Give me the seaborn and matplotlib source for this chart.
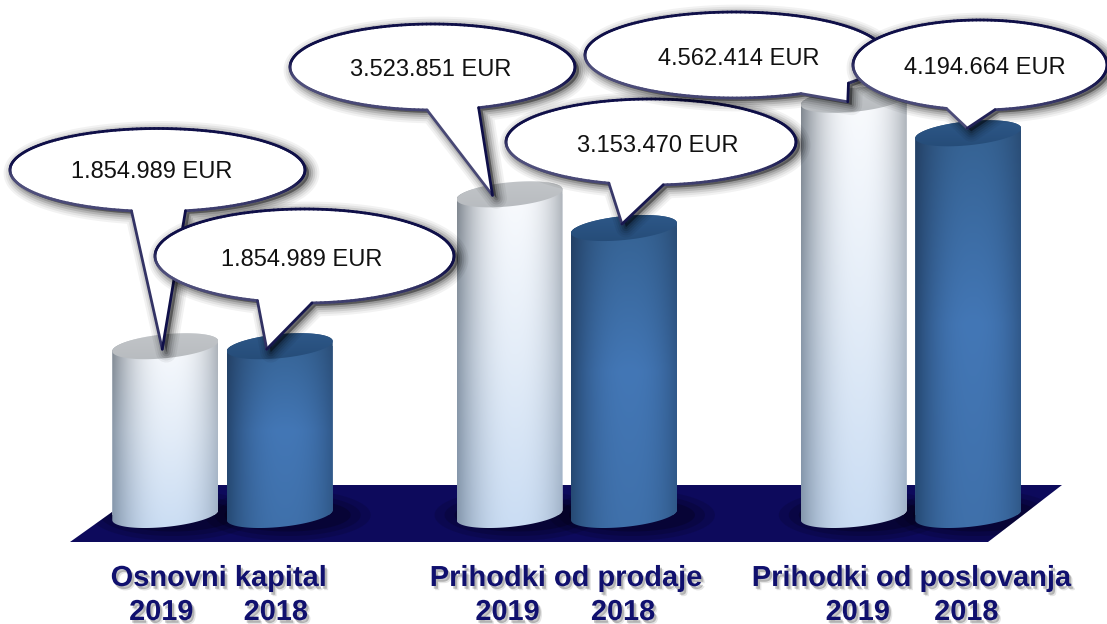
import numpy as np
import pandas as pd
import seaborn as sns
import matplotlib
matplotlib.use("Agg")
import matplotlib.pyplot as plt
import matplotlib.patheffects as pe
from matplotlib.path import Path
from matplotlib.patches import PathPatch, Polygon
from matplotlib.collections import LineCollection
from matplotlib.colors import to_rgb
from matplotlib.transforms import Affine2D, IdentityTransform, blended_transform_factory

categories = ["Osnovni kapital", "Prihodki od prodaje", "Prihodki od poslovanja"]
years = ["2019", "2018"]
values_2019 = [1854989, 3523851, 4562414]
values_2018 = [1854989, 3153470, 4194664]

W, H = 1107, 624
sns.set_theme(style="white")
plt.rcParams["font.family"] = ["Liberation Sans", "DejaVu Sans"]

df = pd.DataFrame({
    "category": categories * 2,
    "year": [years[0]] * 3 + [years[1]] * 3,
    "value": values_2019 + values_2018,
})

fig = plt.figure(figsize=(W / 100, H / 100), dpi=100, facecolor="white")
AX_BOTTOM_PX = 548
ax = fig.add_axes([0, (H - AX_BOTTOM_PX) / H, 1, AX_BOTTOM_PX / H])
sns.barplot(data=df, x="category", y="value", hue="year", hue_order=years,
            palette={"2019": "#dfe8f3", "2018": "#3f70a8"},
            width=0.665, gap=0.074, legend=False, ax=ax, zorder=3, linewidth=0)

PX_PER_UNIT = 344.25
PX_PER_EUR = 91e-6
BASE_PX = 515
xlim = (-222.5 / PX_PER_UNIT, (W - 222.5) / PX_PER_UNIT)
ylim = ((BASE_PX - AX_BOTTOM_PX) / PX_PER_EUR, BASE_PX / PX_PER_EUR)
ax.set_xlim(xlim)
ax.set_ylim(ylim)
ax.axis("off")

PX = Affine2D().scale(1, -1).translate(0, H)  # reference-pixel layout coordinates
ID = IdentityTransform()


def lerp(c0, c1, t):
    c0, c1 = np.array(to_rgb(c0)), np.array(to_rgb(c1))
    t = np.asarray(t)[..., None]
    return c0 * (1 - t) + c1 * t


STYLE = {
    "2019": dict(mid=["#fbfcfe", "#e4edf8", "#c9dcf3"], edge=["#80868d", "#8a98a8", "#8497ad"],
                 cap=["#c4c7ca", "#b6babe"]),
    "2018": dict(mid=["#34608f", "#4377b6", "#3f70aa"], edge=["#233f63", "#25466f", "#264a74"],
                 cap=["#2f5a8c", "#244a75"]),
}


def cylinder_gradient(style):
    n_u, n_v = 120, 160
    u = np.linspace(0, 1, n_u)
    v = np.linspace(0, 1, n_v)
    def vert(cols):
        out = np.zeros((n_v, 3))
        for i, vv in enumerate(v):
            if vv < .5:
                out[i] = lerp(cols[0], cols[1], vv * 2)
            else:
                out[i] = lerp(cols[1], cols[2], (vv - .5) * 2)
        return out
    mid, edge = vert(style["mid"]), vert(style["edge"])
    f = np.abs(u - .55) / .55
    f = f ** 2.4
    return mid[:, None, :] * (1 - f[None, :, None]) + edge[:, None, :] * f[None, :, None]


def half_ellipse(cx, cy, a, b, s, t0, t1, n=60):
    t = np.linspace(t0, t1, n)
    return np.c_[cx + a * np.cos(t), cy + b * np.sin(t) + s * a * np.cos(t)]


B_CAP = 12
TILT = 0.095
bars = sorted(ax.patches, key=lambda p: p.get_x())
bars = [p for p in bars if p.get_height() > 0]

# floor
floor_px = np.array([[70, 542], [988, 542], [1062, 485], [150, 485]], float)
floor_pts = PX.transform(floor_px)
ax.add_patch(Polygon(floor_pts, closed=True, transform=ID, facecolor="#0d0a5c",
                     edgecolor="none", zorder=1, clip_on=False))
floor_path = Path(np.vstack([floor_pts, floor_pts[:1]]), closed=True)

tops = []
for i, p in enumerate(bars):
    year = years[i % 2]
    (x0, y0) = ax.transData.transform((p.get_x(), 0))
    (x1, y1) = ax.transData.transform((p.get_x() + p.get_width(), p.get_height()))
    cx, a = (x0 + x1) / 2, (x1 - x0) / 2
    tops.append((cx, y1))
    # contact shadow on the floor, kept inside the floor shape
    for grow, al in zip((30, 20, 10), (.12, .15, .2)):
        t = np.linspace(0, 2 * np.pi, 80)
        pts = np.c_[cx + 8 + (a + grow) * np.cos(t), y0 + (B_CAP + grow * .45) * np.sin(t)]
        sp = Polygon(pts, closed=True, transform=ID, facecolor="black", alpha=al,
                     edgecolor="none", zorder=1.5)
        ax.add_patch(sp)
        sp.set_clip_path(floor_path, ID)
    body = np.vstack([half_ellipse(cx, y1, a, B_CAP, TILT, 0, np.pi),
                      half_ellipse(cx, y0, a, B_CAP, TILT, np.pi, 2 * np.pi)])
    body_path = Path(np.vstack([body, body[:1]]), closed=True)
    p.set_clip_path(body_path, ID)
    grad = cylinder_gradient(STYLE[year])
    extent = (p.get_x(), p.get_x() + p.get_width(),
              -(B_CAP + 8) / PX_PER_EUR, p.get_height() + (B_CAP + 8) / PX_PER_EUR)
    im = ax.imshow(grad, extent=extent, origin="upper", aspect="auto", zorder=3.1,
                   interpolation="bilinear")
    im.set_clip_path(body_path, ID)
    cap = half_ellipse(cx, y1, a, B_CAP, TILT, 0, 2 * np.pi, 120)
    cap_path = Path(np.vstack([cap, cap[:1]]), closed=True)
    capcols = STYLE[year]["cap"]
    capgrad = lerp(capcols[0], capcols[1], np.linspace(0, 1, 40))[:, None, :]
    im2 = ax.imshow(capgrad, extent=(p.get_x(), p.get_x() + p.get_width(),
                                     p.get_height() - (B_CAP + 8) / PX_PER_EUR,
                                     p.get_height() + (B_CAP + 8) / PX_PER_EUR),
                    origin="upper", aspect="auto", zorder=3.2, interpolation="bilinear")
    im2.set_clip_path(cap_path, ID)
ax.set_xlim(xlim)
ax.set_ylim(ylim)

# callouts: ellipse centre/semi-axes, tail base points, text centre, tip offset from the bar top
callouts = [
    dict(bar=0, c=(157.5, 170), ab=(147.5, 41.5), base=((132, 210), (185, 210)), txt=(152, 172), tip=(-3, 3)),
    dict(bar=1, c=(304.5, 256), ab=(149.5, 47), base=((257, 301), (312, 303)), txt=(302, 260), tip=(-13, 3)),
    dict(bar=2, c=(432.5, 67), ab=(142.5, 43), base=((427, 110), (479, 108)), txt=(431, 70), tip=(-17, 1)),
    dict(bar=3, c=(651, 142), ab=(145, 43), base=((608, 184), (663, 184)), txt=(657.5, 146), tip=(-2, -4)),
    dict(bar=4, c=(735, 55), ab=(150, 43), base=((800, 93), (848, 83)), txt=(739, 59), tip=(-6, 2)),
    dict(bar=5, c=(980, 65), ab=(127, 45), base=((947, 107.5), (995, 109.5)), txt=(985, 68), tip=(-1, -5)),
]
bar_values = [values_2019[0], values_2018[0], values_2019[1], values_2018[1],
              values_2019[2], values_2018[2]]
z = 5.0
for co in callouts:
    bi = co["bar"]
    value = bar_values[bi]
    cx, cy = PX.transform([co["c"]])[0]
    a, b = co["ab"]
    bl, br = PX.transform(np.array(co["base"], float))
    tip = np.array(tops[bi]) + np.array([co["tip"][0], -co["tip"][1]])
    ang = lambda q: np.arctan2((q[1] - cy) / b, (q[0] - cx) / a)
    t0 = ang(br)
    t1 = ang(bl)
    if t1 < t0:
        t1 += 2 * np.pi
    t = np.linspace(t0, t1, 200)
    outline = np.c_[cx + a * np.cos(t), cy + b * np.sin(t)]
    pts = np.vstack([outline, tip, outline[:1]])
    path = Path(pts, closed=True)
    # soft drop shadow
    sh = Affine2D().translate(4, -3)
    for lw, al in zip((15, 12, 9, 6, 3), (.05, .06, .09, .12, .16)):
        ax.add_patch(PathPatch(path, transform=sh, facecolor="black", edgecolor="black",
                               lw=lw, alpha=al, zorder=z, clip_on=False, joinstyle="round"))
    ax.add_patch(PathPatch(path, transform=ID, facecolor="white", edgecolor="none",
                           zorder=z + .1, clip_on=False))
    # bevelled outline: navy, lighter on the edges facing down-left
    segs = np.stack([pts[:-1], pts[1:]], axis=1)
    d = segs[:, 1] - segs[:, 0]
    nrm = np.c_[d[:, 1], -d[:, 0]]
    nrm /= np.maximum(np.linalg.norm(nrm, axis=1, keepdims=True), 1e-9)
    light = np.clip((nrm @ np.array([-.5, -.85])), 0, 1) ** 1.5
    cols = lerp("#0f0f48", "#50507c", light)
    ax.add_collection(LineCollection(segs, colors=cols, linewidths=2.0, transform=ID,
                                     zorder=z + .2, clip_on=False, capstyle="round"),
                      autolim=False)
    tx, ty = co["txt"]
    label = f"{value:,}".replace(",", ".") + " EUR"
    ax.text(tx, ty, label, transform=PX, ha="center", va="center", fontsize=17,
            color="#111111", zorder=z + .3, clip_on=False)
    z += 1

# axis-side labels
shadow = [pe.SimplePatchShadow(offset=(1.5, -2), shadow_rgbFace="#000000", alpha=.22),
          pe.SimplePatchShadow(offset=(2.5, -3), shadow_rgbFace="#000000", alpha=.10), pe.Normal()]
xpx = blended_transform_factory(ax.transData, PX)
for i, name in enumerate(categories):
    dx = [-4, -1, 0][i] / PX_PER_UNIT
    ax.text(i + dx, 578, name, transform=xpx, ha="center", va="center", fontsize=20.9,
            fontweight="bold", color="#10106e", path_effects=shadow, clip_on=False, zorder=20)
year_dx = [-4, -4, -2, -1, 4, -2]
for i, p in enumerate(bars):
    xc = p.get_x() + p.get_width() / 2 + year_dx[i] / PX_PER_UNIT
    ax.text(xc, 612, years[i % 2], transform=xpx, ha="center", va="center", fontsize=20.8,
            fontweight="bold", color="#10106e", path_effects=shadow, clip_on=False, zorder=20)

fig.savefig("out.png", dpi=100, facecolor="white")
